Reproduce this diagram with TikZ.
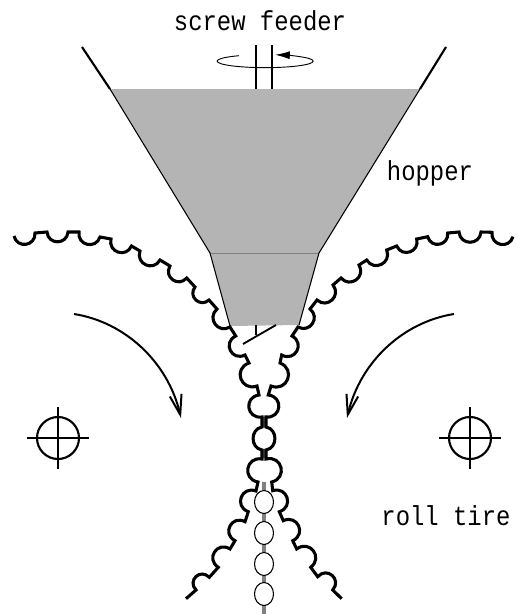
\documentclass[tikz,border=0pt]{standalone}
\usepackage{fontspec}
\setmonofont[FakeStretch=0.87]{Liberation Mono}
\usetikzlibrary{arrows.meta}
\definecolor{colFill}{RGB}{180,180,180}

\begin{document}
\begin{tikzpicture}[
    x=0.75pt, y=-0.75pt,
    font=\ttfamily\fontsize{20.6}{24}\selectfont,
    tire/.style={line width=2.3pt, miter limit=3},
    scallop/.style={bend right=85, looseness=1.6},
    lobe/.style={bend right=90, looseness=1.8},
    neck/.style={bend right=80, looseness=1.35},
    thin line/.style={line width=0.8pt},
    rotate arrow/.style={line width=1.5pt, -{Straight Barb[length=15pt, width=9pt, line width=1.5pt]}},
    roll mark/.style={line width=1.6pt},
    label/.style={inner sep=0pt, anchor=base},
  ]

  \useasboundingbox (0,0) rectangle (516,614);

  % ---- hopper ------------------------------------------------------------
  \fill[colFill] (110,89) -- (420,89) -- (319,253) -- (299,325) -- (230,326) -- (210,253) -- cycle;
  \draw[black!50, line width=0.5pt] (210,253) -- (319,253);
  \draw[line width=1.6pt] (82,47) -- (110,89);
  \draw[line width=1.6pt] (446,47) -- (420,89);
  \draw[thin line] (110,89) -- (210,253) -- (230,326);
  \draw[thin line] (420,89) -- (319,253) -- (299,325);

  % ---- screw feeder ------------------------------------------------------
  \draw[line width=1pt] (256,45) -- (256,89);
  \draw[line width=1pt] (272,45) -- (272,89);
  \draw[line width=0.7pt, -{Latex[length=11pt, width=6pt]}]
    (239,55.7) arc[start angle=237, end angle=-78, x radius=48, y radius=6.5];
  \draw[line width=1pt] (256,325) -- (256,335);
  \draw[line width=1.4pt] (243,344) -- (276,325);

  % ---- gap line and seeds ------------------------------------------------
  \draw[black!50, line width=2.4pt] (264,417) -- (264,614);
  \fill[white] (264,438) ellipse (8 and 11);
  \fill[white] (264,470) ellipse (11 and 12);
  \foreach \y in {502,533,564,594}
    \draw[thin line, fill=white] (264,\y) ellipse (9.5 and 11.5);

  % ---- roll tire, left ---------------------------------------------------
  \draw[tire] (14,236) to[scallop] (35,233) -- (47,232) to[scallop] (68,232)
    -- (79,232) to[scallop] (100,237) -- (111,239) to[scallop] (131.5,246)
    -- (140,251) to[scallop] (160,260) -- (170,266) to[scallop] (186.7,278)
    -- (195,287) to[scallop] (209,300) -- (217,309) to[scallop] (230,327)
    -- (235.7,336) to[lobe] (245,355) -- (249,363) to[lobe] (257,386)
    -- (259,395) to[lobe] (262,417) -- (262,427) to[neck] (262,450)
    -- (262,459) to[lobe] (258,482) -- (256,491) to[lobe] (248.3,511.7)
    -- (245,521.7) to[lobe] (235,540.7) -- (230,549) to[lobe] (218.3,567.3)
    -- (209.3,577.3) to[lobe] (196,590) -- (186,598.7);

  % ---- roll tire, right --------------------------------------------------
  \draw[tire] (341.7,598.7) -- (332.7,590) to[lobe] (317.7,576.7)
    -- (310.7,567.3) to[lobe] (296.7,549) -- (292.7,540.7) to[lobe] (283.3,520.7)
    -- (279.3,511.7) to[lobe] (272.7,490.7) -- (271.7,482) to[lobe] (266,459)
    -- (266,450) to[neck] (266,427) -- (266,417) to[lobe] (268.3,395)
    -- (271,386) to[lobe] (280,363) -- (281.7,355) to[lobe] (292,336)
    -- (298,327) to[scallop] (310,309) -- (317,300) to[scallop] (333,285)
    -- (341,278) to[scallop] (359,265) -- (366.7,260) to[scallop] (386.7,250)
    -- (396.7,246) to[scallop] (416.7,239) -- (427.7,236.7) to[scallop] (447.7,233)
    -- (459,232) to[scallop] (481,232) -- (492,232.3) to[scallop] (513,236.7);

  % ---- rotation and roll centres -----------------------------------------
  \draw[rotate arrow] (74,314) .. controls (125,322) and (168,362) .. (181,418);
  \draw[rotate arrow] (454,314) .. controls (403,322) and (360,362) .. (347,418);
  \foreach \x in {58,470} {
    \draw[roll mark] (\x,438) circle (21);
    \draw[thin line] (\x-31,438) -- (\x+31,438);
    \draw[thin line] (\x,407) -- (\x,469);
  }

  % ---- labels ------------------------------------------------------------
  \node[label] (screw) at (260,31) {screw feeder};
  \node[label] (hopper) at (430,180) {hopper};
  \node[label] (tirelabel) at (446,525) {roll tire};

\end{tikzpicture}
\end{document}
